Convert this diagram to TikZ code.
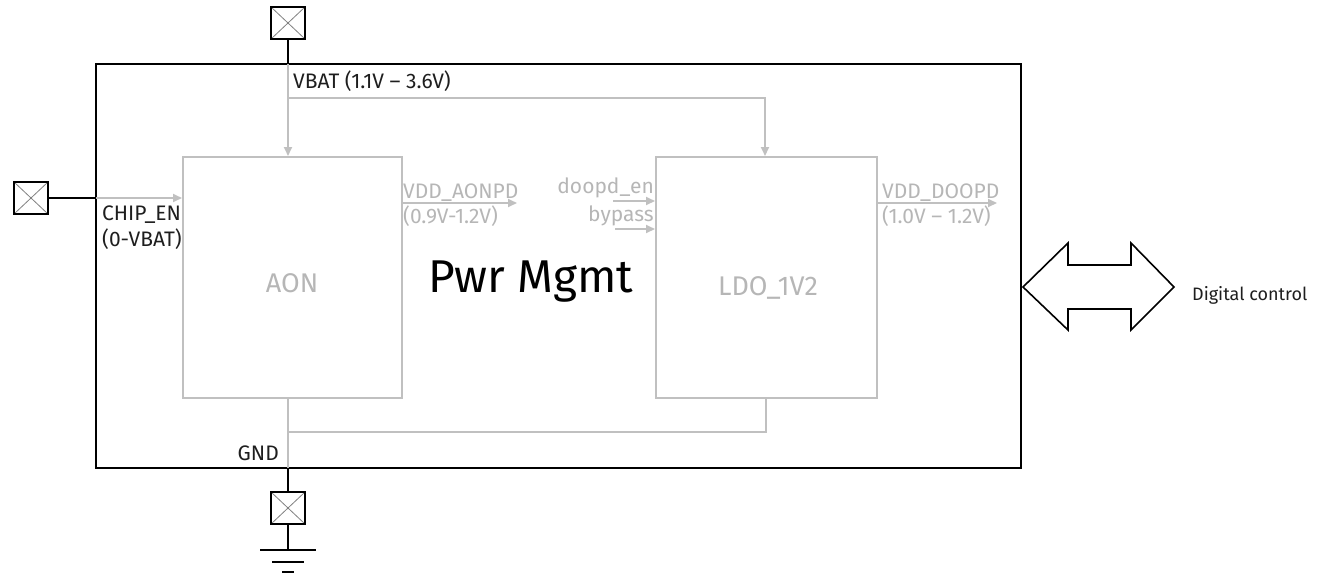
\documentclass[tikz,border=0pt]{standalone}
\usepackage{fontspec}
\setmainfont{Fira Sans}
\usetikzlibrary{arrows.meta}
\definecolor{lgray}{RGB}{192,192,192}
\definecolor{tgray}{RGB}{182,182,182}
\definecolor{ink}{RGB}{30,30,30}
\tikzset{
  blk/.style={draw=black, line width=2pt},
  gline/.style={draw=lgray, line width=2pt},
  garrow/.style={gline, -{Triangle[length=9pt,width=8pt]}},
  pad/.style={draw=black, line width=2.6pt, minimum width=34pt, minimum height=32pt, inner sep=0pt,
    path picture={\draw[gray, line width=0.8pt] (path picture bounding box.south west) -- (path picture bounding box.north east)
      (path picture bounding box.north west) -- (path picture bounding box.south east);}},
  gbox/.style={draw=lgray, line width=2pt, inner sep=0pt},
  lbl/.style={text=ink, inner sep=0pt, font=\fontsize{21}{24}\selectfont},
  glbl/.style={text=tgray, inner sep=0pt, font=\fontsize{21}{24}\selectfont},
  bigg/.style={text=tgray, inner sep=0pt, font=\fontsize{27}{30}\selectfont},
}
\begin{document}
\begin{tikzpicture}[x=1pt,y=-1pt]
\useasboundingbox (0,0) rectangle (1336,573);
% outer box
\node[draw=black, line width=2pt, minimum width=925pt, minimum height=404pt, inner sep=0pt] (pm) at (558.5,266) {};
\node[text=black, inner sep=0pt, font=\fontsize{46}{52}\selectfont, anchor=base] (pmt) at (531,292) {Pwr Mgmt};
% inner blocks
\node[gbox, minimum width=219pt, minimum height=241pt] (aon) at (292.5,277.5) {};
\node[bigg, anchor=base] (aont) at (292,292) {AON};
\node[gbox, minimum width=221pt, minimum height=241pt] (ldo) at (766.5,277.5) {};
\node[bigg, anchor=base] (ldot) at (768,295) {LDO\_1V2};
% pads
\node[pad] (tpad) at (288,23) {};
\node[pad] (lpad) at (31,198) {};
\node[pad] (bpad) at (288,508) {};
% coordinates
\coordinate (vin) at (288,64);
\coordinate (vbr) at (288,98);
\coordinate (vbr2) at (765,98);
\coordinate (cin) at (96,198);
\coordinate (gout) at (288,468);
\coordinate (gj) at (288,432);
\coordinate (lj) at (766,432);
\coordinate (gnd) at (288,550);
% VBAT
\draw[blk] (tpad.south) -- (vin);
\draw[garrow] (vin) -- (vin |- aon.north);
\draw[garrow] (vbr) -- (vbr2) -- (vbr2 |- ldo.north);
\node[lbl, anchor=base west] (vbatl) at (293,88) {VBAT (1.1V – 3.6V)};
% CHIP_EN
\draw[blk] (lpad.east) -- (cin);
\draw[garrow] (cin) -- (cin -| aon.west);
\node[lbl, anchor=base west] (cenl) at (102,220) {CHIP\_EN};
\node[lbl, anchor=base west] (cenl2) at (102,246) {(0-VBAT)};
% VDD_AONPD
\coordinate (ao1) at (402,203);
\coordinate (ao2) at (517,203);
\draw[garrow] (ao1) -- (ao2);
\node[glbl, anchor=base west] (aol) at (403,198) {VDD\_AONPD};
\node[glbl, anchor=base west] (aol2) at (403,223) {(0.9V-1.2V)};
% LDO inputs
\coordinate (d1) at (613,201);
\coordinate (b1) at (615,229);
\draw[garrow] (d1) -- (d1 -| ldo.west);
\draw[garrow] (b1) -- (b1 -| ldo.west);
\node[glbl, anchor=base east] (dl) at (654,193) {doopd\_en};
\node[glbl, anchor=base east] (bl) at (654,221) {bypass};
% VDD_DOOPD
\coordinate (do1) at (877,203);
\coordinate (do2) at (997,203);
\draw[garrow] (do1) -- (do2);
\node[glbl, anchor=base west] (dol) at (882,198) {VDD\_DOOPD};
\node[glbl, anchor=base west] (dol2) at (882,223) {(1.0V – 1.2V)};
% GND
\draw[gline] (aon.south -| gout) -- (gout);
\draw[gline] (ldo.south -| lj) -- (lj) -- (gj);
\node[lbl, anchor=base east] (gndl) at (279,460) {GND};
\draw[blk] (gout) -- (bpad.north);
\draw[blk] (bpad.south) -- (gnd);
\draw[blk] (260,550) -- (316,550);
\draw[blk] (272,562) -- (304,562);
\draw[blk] (282,572) -- (294,572);
% Digital control arrow
\draw[draw=black, line width=1.6pt, line join=miter] (1023,287) -- (1068,243) -- (1068,265) -- (1131,265) -- (1131,243) -- (1174,287) -- (1131,330) -- (1131,309) -- (1068,309) -- (1068,330) -- cycle;
\node[lbl, anchor=base west, font=\fontsize{18}{21}\selectfont] (dc) at (1192,300) {Digital control};
\end{tikzpicture}
\end{document}
